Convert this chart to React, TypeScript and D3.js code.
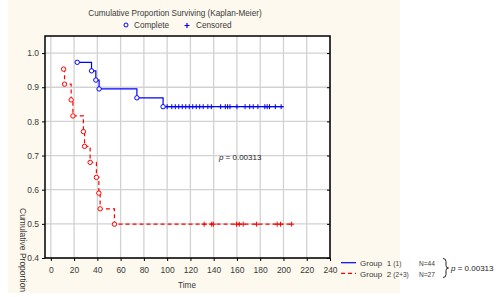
import { useEffect, useRef } from 'react';
import * as d3 from 'd3';

// Group 1 (1): complete events (time, cumulative proportion surviving)
const g1Times = [22.7, 35, 38.7, 41.5, 74, 96.5];
const g1Surv = [0.973, 0.948, 0.921, 0.895, 0.869, 0.843];
const g1Censored = [100, 104, 107, 110, 113, 116, 119, 122, 125, 128, 131, 135, 138, 146, 150, 152, 154, 160, 167, 171, 174, 178, 184, 186, 188, 193, 198];
const g1End = 200;

// Group 2 (2+3)
const g2Times = [11, 11.8, 17.5, 19, 28, 29, 33.8, 39.2, 41.3, 42.4, 54.7];
const g2Surv = [0.953, 0.909, 0.863, 0.816, 0.77, 0.727, 0.68, 0.636, 0.59, 0.544, 0.499];
const g2Censored = [131.8, 138.3, 139.7, 159.7, 162, 165.4, 176.9, 194.6, 197.5, 207];
const g2End = 207;

const xTicks = d3.range(0, 241, 20);
const yTicks = [0.4, 0.5, 0.6, 0.7, 0.8, 0.9, 1.0];

const FONT = 'Liberation Sans, Arial, sans-serif';
const TXT = '#3a3a3a';

const App = () => {
  const svgRef = useRef<SVGSVGElement>(null);

  useEffect(() => {
    const svg = d3.select(svgRef.current);
    svg.selectAll('*').remove();

    const left = 45, right = 330, top = 36, bottom = 258;

    const x = d3.scaleLinear().domain([-5, 240]).range([left, right]);
    const y = d3.scaleLinear().domain([0.4, 1.05]).range([bottom, top]);

    // background panel
    svg.append('rect').attr('x', 8).attr('y', 0).attr('width', 392).attr('height', 293).attr('fill', '#fdf9ee');
    svg.append('rect').attr('x', left).attr('y', top).attr('width', right - left).attr('height', bottom - top).attr('fill', '#fff');

    // grid
    const grid = svg.append('g').attr('stroke', '#d2d2d2').attr('stroke-width', 1.3);
    grid.selectAll('line.v').data(xTicks).join('line')
      .attr('x1', d => x(d)).attr('x2', d => x(d)).attr('y1', top).attr('y2', bottom);
    grid.selectAll('line.h').data(yTicks).join('line')
      .attr('y1', d => y(d)).attr('y2', d => y(d)).attr('x1', left).attr('x2', right);

    // axes
    const ax = svg.append('g').attr('transform', `translate(0,${bottom})`)
      .call(d3.axisBottom(x).tickValues(xTicks).tickSize(3).tickPadding(6).tickFormat(d3.format('d')));
    ax.select('.domain').remove();
    ax.selectAll('line').attr('stroke', '#000');
    ax.selectAll('text').attr('font-family', FONT).attr('font-size', 8.5).attr('fill', TXT);

    const ay = svg.append('g').attr('transform', `translate(${left},0)`)
      .call(d3.axisLeft(y).tickValues(yTicks).tickSize(3).tickPadding(3).tickFormat(d3.format('.1f')));
    ay.select('.domain').remove();
    ay.selectAll('line').attr('stroke', '#000');
    ay.selectAll('text').attr('font-family', FONT).attr('font-size', 8.5).attr('fill', TXT);

    const ar = svg.append('g').attr('transform', `translate(${right},0)`)
      .call(d3.axisLeft(y).tickValues(yTicks).tickSize(3).tickFormat(() => ''));
    ar.select('.domain').remove();
    ar.selectAll('line').attr('stroke', '#000');

    // frame
    svg.append('rect').attr('x', left).attr('y', top).attr('width', right - left).attr('height', bottom - top)
      .attr('fill', 'none').attr('stroke', '#000').attr('stroke-width', 1.5);

    const line = d3.line<[number, number]>().x(d => x(d[0])).y(d => y(d[1])).curve(d3.curveStepAfter);

    const drawGroup = (times: number[], surv: number[], cens: number[], end: number, color: string, dash: string | null) => {
      const pts: [number, number][] = times.map((t, i) => [t, surv[i]]);
      pts.push([end, surv[surv.length - 1]]);
      svg.append('path').datum(pts).attr('d', line).attr('fill', 'none').attr('stroke', color)
        .attr('stroke-width', 1.2).attr('stroke-dasharray', dash);
      const last = surv[surv.length - 1];
      svg.append('g').selectAll('path').data(cens).join('path')
        .attr('d', t => `M${x(t) - 2.5},${y(last)}h5M${x(t)},${y(last) - 2.5}v5`)
        .attr('stroke', color).attr('stroke-width', 1);
      svg.append('g').selectAll('circle').data(times).join('circle')
        .attr('cx', t => x(t)).attr('cy', (t, i) => y(surv[i])).attr('r', 2.2)
        .attr('fill', '#fff').attr('stroke', color).attr('stroke-width', 1);
    };
    drawGroup(g1Times, g1Surv, g1Censored, g1End, '#0000ff', null);
    drawGroup(g2Times, g2Surv, g2Censored, g2End, '#ff0000', '4,3');

    // p value inside plot
    const pt = svg.append('text').attr('x', x(144.5)).attr('y', y(0.688)).attr('font-family', FONT)
      .attr('font-size', 8).attr('fill', '#222');
    pt.append('tspan').attr('font-style', 'italic').text('p');
    pt.append('tspan').text(' = 0.00313');

    // titles
    svg.append('text').attr('x', 175).attr('y', 16).attr('text-anchor', 'middle').attr('font-family', FONT)
      .attr('font-size', 8.2).attr('fill', TXT).text('Cumulative Proportion Surviving (Kaplan-Meier)');
    svg.append('circle').attr('cx', 126).attr('cy', 25).attr('r', 2).attr('fill', '#fff').attr('stroke', '#0000ff');
    svg.append('text').attr('x', 134).attr('y', 28).attr('font-family', FONT).attr('font-size', 8.2)
      .attr('fill', TXT).text('Complete');
    svg.append('path').attr('d', 'M184.5,25.5h5M187,23v5').attr('stroke', '#0000ff').attr('stroke-width', 1.2);
    svg.append('text').attr('x', 196).attr('y', 28).attr('font-family', FONT).attr('font-size', 8.2)
      .attr('fill', TXT).text('Censored');

    svg.append('text').attr('x', 187).attr('y', 288).attr('text-anchor', 'middle').attr('font-family', FONT)
      .attr('font-size', 8.2).attr('fill', TXT).text('Time');
    svg.append('text').attr('transform', 'translate(20,208) rotate(90)').attr('font-family', FONT)
      .attr('font-size', 8.5).attr('fill', TXT).text('Cumulative Proportion');

    // bottom legend
    const lg = svg.append('g').attr('font-family', FONT).attr('fill', TXT);
    lg.append('line').attr('x1', 341).attr('x2', 356).attr('y1', 262.7).attr('y2', 262.7).attr('stroke', '#0000ff').attr('stroke-width', 1.2);
    lg.append('line').attr('x1', 341).attr('x2', 356).attr('y1', 273.3).attr('y2', 273.3).attr('stroke', '#ff0000')
      .attr('stroke-width', 1.2).attr('stroke-dasharray', '4,3');
    const r1 = lg.append('text').attr('x', 360).attr('y', 266).attr('font-size', 8).attr('xml:space', 'preserve');
    r1.append('tspan').text('Group  1 ');
    r1.append('tspan').attr('font-size', 6.5).text('(1)');
    const r2 = lg.append('text').attr('x', 360).attr('y', 277).attr('font-size', 8).attr('xml:space', 'preserve');
    r2.append('tspan').text('Group  2 ');
    r2.append('tspan').attr('font-size', 6.5).text('(2+3)');
    lg.append('text').attr('x', 419).attr('y', 266).attr('font-size', 6.6).text('N=44');
    lg.append('text').attr('x', 419).attr('y', 277).attr('font-size', 6.6).text('N=27');
    lg.append('path').attr('d', 'M443,258.5 q3,0 3,3 v4 q0,2.5 2.5,2.5 q-2.5,0 -2.5,2.5 v4 q0,3 -3,3')
      .attr('fill', 'none').attr('stroke', '#222').attr('stroke-width', 1);
    const p2 = lg.append('text').attr('x', 451).attr('y', 271).attr('font-size', 8).attr('fill', '#222');
    p2.append('tspan').attr('font-style', 'italic').text('p');
    p2.append('tspan').text(' = 0.00313');
  }, []);

  return (
    <svg ref={svgRef} width={503} height={297}
      style={{ position: 'absolute', left: 0, top: 0, background: '#fff' }} />
  );
};

export default App;
